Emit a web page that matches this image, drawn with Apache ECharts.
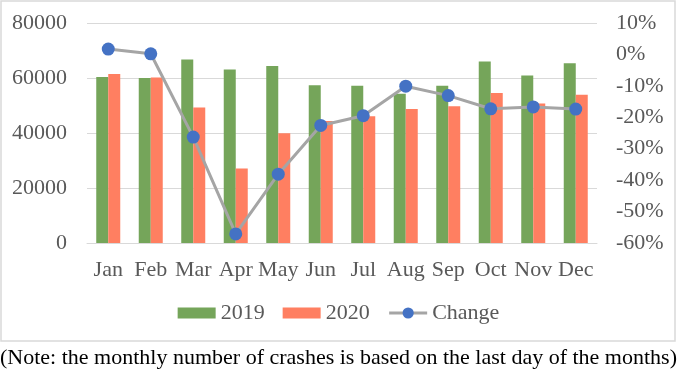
<!DOCTYPE html>
<html>
<head>
<meta charset="utf-8">
<script src="https://cdn.jsdelivr.net/npm/echarts@6/dist/echarts.min.js"></script>
<style>
html,body{margin:0;padding:0;background:#fff;}
#c{width:677px;height:369px;}
</style>
</head>
<body>
<div id="c"></div>
<script>
const months = ['Jan','Feb','Mar','Apr','May','Jun','Jul','Aug','Sep','Oct','Nov','Dec'];
const crashes2019 = [60400, 60000, 66700, 63050, 64350, 57350, 57200, 54300, 57200, 66000, 60900, 65350];
const crashes2020 = [61450, 60150, 49250, 27050, 39900, 44350, 46100, 48750, 49700, 54550, 50700, 53950];
const changePct = [1.7, 0.2, -26.3, -57.1, -38.1, -22.6, -19.5, -10.1, -13.1, -17.3, -16.7, -17.4];
const leftTicks = {min: 0, max: 80000, interval: 20000};
const rightTicks = {min: -60, max: 10, interval: 10};
const noteText = '(Note: the monthly number of crashes is based on the last day of the months)';

const FONT = '"Liberation Serif","Times New Roman",serif';
const barIcon = 'path://M0,0M38,14M0,1.5L38,1.5L38,12.5L0,12.5Z';
const chart = echarts.init(document.getElementById('c'), null, {renderer: 'canvas'});
chart.setOption({
  animation: false,
  backgroundColor: '#fff',
  textStyle: {fontFamily: FONT},
  grid: {left: 87, right: 80, top: 23, bottom: 126, outerBoundsMode: 'none', containLabel: false},
  legend: {
    data: [{name: '2019', icon: barIcon}, {name: '2020', icon: barIcon}, {name: 'Change'}],
    top: 297,
    left: 'center',
    itemWidth: 38,
    itemHeight: 14,
    itemGap: 18,
    lineStyle: {width: 3},
    textStyle: {fontFamily: FONT, fontSize: 22, color: '#595959'}
  },
  xAxis: {
    type: 'category',
    data: months,
    axisLine: {lineStyle: {color: '#D9D9D9', width: 1}},
    axisTick: {show: false},
    axisLabel: {fontFamily: FONT, fontSize: 22, color: '#595959', margin: 16, interval: 0}
  },
  yAxis: [
    {
      type: 'value',
      min: leftTicks.min, max: leftTicks.max, interval: leftTicks.interval,
      axisLine: {show: false}, axisTick: {show: false},
      splitLine: {lineStyle: {color: '#D9D9D9', width: 1}},
      axisLabel: {fontFamily: FONT, fontSize: 22, color: '#595959', margin: 20, formatter: function (v) { return String(v); }}
    },
    {
      type: 'value',
      min: rightTicks.min, max: rightTicks.max, interval: rightTicks.interval,
      axisLine: {show: false}, axisTick: {show: false},
      splitLine: {show: false},
      axisLabel: {fontFamily: FONT, fontSize: 22, color: '#595959', margin: 19, formatter: '{value}%'}
    }
  ],
  series: [
    {name: '2019', type: 'bar', data: crashes2019, barWidth: 12, barGap: '0%', itemStyle: {color: '#75A55A'}},
    {name: '2020', type: 'bar', data: crashes2020, barWidth: 12, barGap: '0%', itemStyle: {color: '#FF7F61'}},
    {name: 'Change', type: 'line', yAxisIndex: 1, data: changePct,
      symbol: 'circle', symbolSize: 13,
      lineStyle: {color: '#A5A5A5', width: 3},
      itemStyle: {color: '#4472C4'}, z: 5}
  ],
  graphic: [
    {type: 'rect', shape: {x: 1, y: 1, width: 674, height: 340}, style: {fill: null, stroke: '#D9D9D9', lineWidth: 1.5}, silent: true, z: -1},
    {type: 'text', style: {x: 338.5, y: 358, align: 'center', verticalAlign: 'middle', text: noteText, fontFamily: FONT, fontSize: 22, fill: '#000'}}
  ]
});
</script>
</body>
</html>
